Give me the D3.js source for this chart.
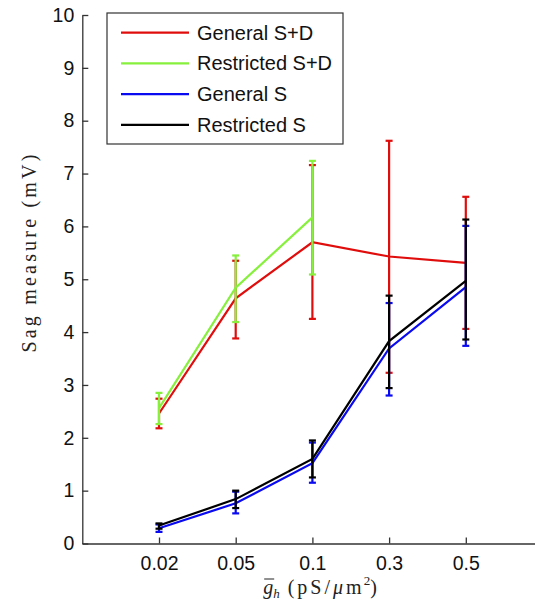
<!DOCTYPE html>
<html>
<head>
<meta charset="utf-8">
<script src="https://cdn.jsdelivr.net/npm/d3@7/dist/d3.min.js"></script>
<style>
  body { margin: 0; background: #fff; }
  svg { display: block; }
</style>
</head>
<body>
<div id="chart"></div>
<script>
// conductance values on the x axis
const conductances = ["0.02", "0.05", "0.1", "0.3", "0.5"];
const yTicks = [0, 1, 2, 3, 4, 5, 6, 7, 8, 9, 10];

// mean sag (mV) and error bar ends per series
const generalSD = [2.46, 4.64, 5.70, 5.43, 5.31];
const generalSDLow = [2.18, 3.88, 4.25, 3.23, 4.06];
const generalSDHigh = [2.74, 5.35, 7.16, 7.62, 6.56];

const restrictedSD = [2.56, 4.84, 6.17];
const restrictedSDLow = [2.26, 4.19, 5.09];
const restrictedSDHigh = [2.85, 5.45, 7.24];

const generalS = [0.29, 0.76, 1.52, 3.69, 4.85];
const generalSLow = [0.22, 0.57, 1.15, 2.80, 3.74];
const generalSHigh = [0.36, 0.98, 1.91, 4.55, 6.01];

const restrictedS = [0.34, 0.84, 1.60, 3.83, 4.97];
const restrictedSLow = [0.28, 0.67, 1.25, 2.94, 3.86];
const restrictedSHigh = [0.38, 1.00, 1.95, 4.69, 6.13];

const seriesNames = ["General S+D", "Restricted S+D", "General S", "Restricted S"];
const seriesColors = ["#e00d0d", "#86f03c", "#0a0af0", "#000000"];

const series = [
  [generalSD, generalSDLow, generalSDHigh],
  [restrictedSD, restrictedSDLow, restrictedSDHigh],
  [generalS, generalSLow, generalSHigh],
  [restrictedS, restrictedSLow, restrictedSHigh]
].map((s, i) => ({
  name: seriesNames[i],
  color: seriesColors[i],
  points: s[0].map((v, j) => ({ x: conductances[j], y: v, lo: s[1][j], hi: s[2][j] }))
}));

const width = 535, height = 604;
const svg = d3.select("#chart").append("svg")
  .attr("width", width)
  .attr("height", height);

const x = d3.scalePoint()
  .domain(conductances)
  .range([82.3, 542.5])
  .padding(1);

const y = d3.scaleLinear()
  .domain([0, 10])
  .range([543.5, 15]);

// axes (MATLAB style: ticks pointing inward, no box)
const yAxis = svg.append("g")
  .attr("transform", "translate(82.3,0)")
  .call(d3.axisLeft(y).tickValues(yTicks).tickSizeInner(-6).tickSizeOuter(0).tickPadding(8));

const xAxis = svg.append("g")
  .attr("transform", "translate(0,543.5)")
  .call(d3.axisBottom(x).tickSizeInner(-6).tickSizeOuter(0).tickPadding(13));

[yAxis, xAxis].forEach(g => {
  g.select(".domain").attr("stroke", "#333").attr("stroke-width", 1.3);
  g.selectAll(".tick line").attr("stroke", "#333").attr("stroke-width", 1.3);
  g.selectAll(".tick text")
    .attr("fill", "#111")
    .style("font-family", "'Liberation Sans', Arial, sans-serif")
    .style("font-size", "19.5px");
});

// axis labels
svg.append("text")
  .attr("transform", "translate(36,252) rotate(-90)")
  .attr("text-anchor", "middle")
  .style("font-family", "'Liberation Serif', 'DejaVu Serif', serif")
  .style("font-size", "20px")
  .style("letter-spacing", "3.2px")
  .attr("fill", "#222")
  .text("Sag measure (mV)");

const xl = svg.append("text")
  .attr("x", 320)
  .attr("y", 594)
  .attr("text-anchor", "middle")
  .style("font-family", "'Liberation Serif', 'DejaVu Serif', serif")
  .style("font-size", "20px")
  .attr("fill", "#222");
xl.append("tspan").style("font-style", "italic").text("g");
xl.append("tspan").style("font-style", "italic").style("font-size", "13px").attr("dy", 4).text("h");
xl.append("tspan").attr("dy", -4).style("letter-spacing", "3px").text(" (pS/");
xl.append("tspan").style("font-style", "italic").style("letter-spacing", "3px").text("μ");
xl.append("tspan").style("letter-spacing", "2px").text("m");
xl.append("tspan").style("font-size", "13px").attr("dy", -9).text("2");
xl.append("tspan").attr("dy", 9).text(")");

// bar over the g
const gBox = xl.node().getExtentOfChar(0);
svg.append("line")
  .attr("x1", gBox.x + 1).attr("x2", gBox.x + gBox.width + 1)
  .attr("y1", gBox.y + 3).attr("y2", gBox.y + 3)
  .attr("stroke", "#222").attr("stroke-width", 1);

// data
const line = d3.line().x(d => x(d.x)).y(d => y(d.y));
const capW = 3.5;

const groups = svg.selectAll("g.series")
  .data(series)
  .enter().append("g")
  .attr("class", "series");

groups.append("path")
  .attr("d", d => line(d.points))
  .attr("fill", "none")
  .attr("stroke", d => d.color)
  .attr("stroke-width", 2.2);

groups.each(function(s) {
  const g = d3.select(this);
  const bars = g.selectAll("g.err").data(s.points).enter().append("g").attr("class", "err");
  bars.append("line")
    .attr("x1", d => x(d.x)).attr("x2", d => x(d.x))
    .attr("y1", d => y(d.lo)).attr("y2", d => y(d.hi));
  bars.append("line")
    .attr("x1", d => x(d.x) - capW).attr("x2", d => x(d.x) + capW)
    .attr("y1", d => y(d.lo)).attr("y2", d => y(d.lo));
  bars.append("line")
    .attr("x1", d => x(d.x) - capW).attr("x2", d => x(d.x) + capW)
    .attr("y1", d => y(d.hi)).attr("y2", d => y(d.hi));
  bars.selectAll("line").attr("stroke", s.color).attr("stroke-width", 2.2);
});

// legend
const legend = svg.append("g");
legend.append("rect")
  .attr("x", 107).attr("y", 13)
  .attr("width", 236).attr("height", 131)
  .attr("fill", "#fff")
  .attr("stroke", "#333")
  .attr("stroke-width", 1.2);

const rows = legend.selectAll("g.row")
  .data(series)
  .enter().append("g")
  .attr("transform", (d, i) => `translate(0,${32.7 + i * 30.7})`);

rows.append("line")
  .attr("x1", 121).attr("x2", 189)
  .attr("stroke", d => d.color)
  .attr("stroke-width", 2.2);

rows.append("text")
  .attr("x", 197)
  .attr("dy", "0.35em")
  .style("font-family", "'Liberation Sans', Arial, sans-serif")
  .style("font-size", "20px")
  .attr("fill", "#111")
  .text(d => d.name);
</script>
</body>
</html>
